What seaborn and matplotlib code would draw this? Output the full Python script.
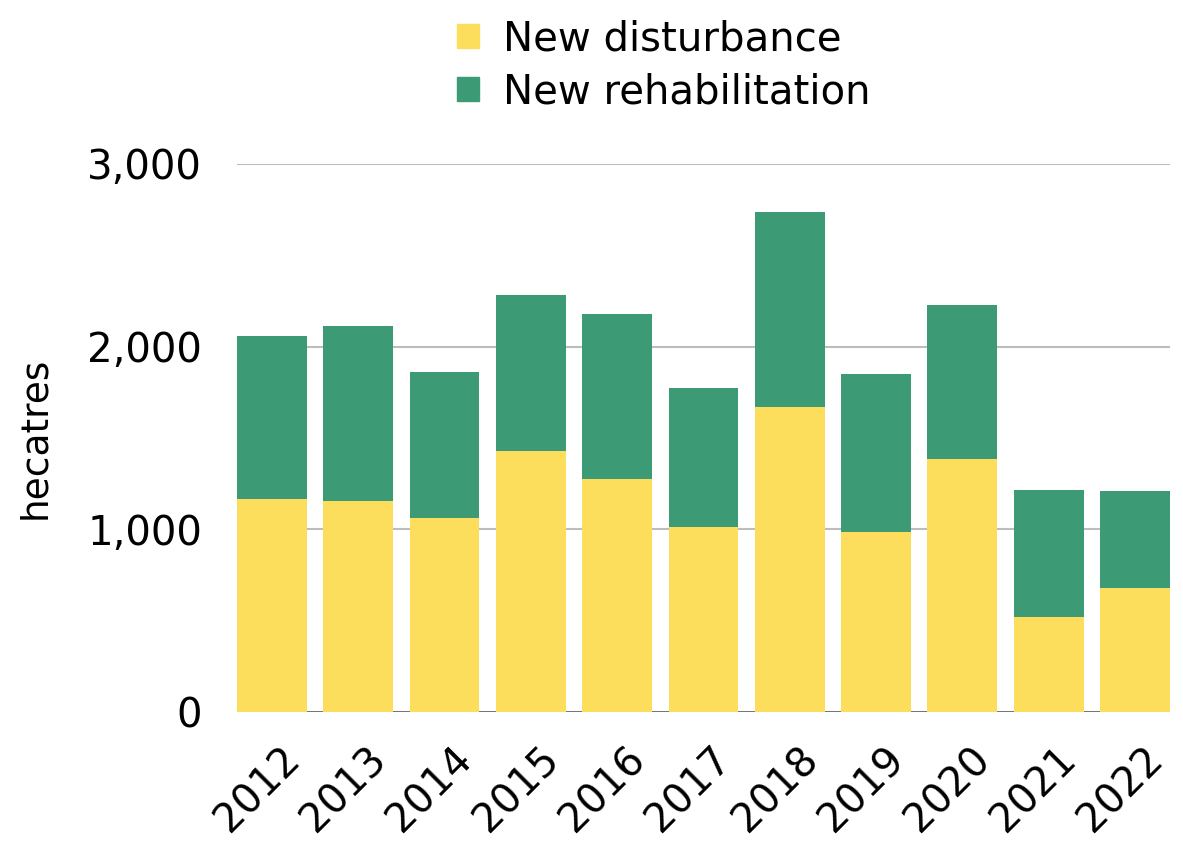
import matplotlib
matplotlib.use("Agg")
import matplotlib.pyplot as plt
import matplotlib.transforms as mtransforms
from matplotlib.patches import Patch
import pandas as pd
import seaborn as sns

# data (hectares)
years = ["2012", "2013", "2014", "2015", "2016", "2017", "2018", "2019", "2020", "2021", "2022"]
disturbance = [1166, 1155, 1062, 1429, 1275, 1013, 1669, 985, 1385, 520, 679]
rehabilitation = [892, 958, 799, 853, 903, 760, 1068, 865, 843, 695, 531]

yellow = "#FDDD5C"
green = "#3C9B75"

sns.set_theme(style="white")
plt.rcParams["font.family"] = ["DejaVu Sans"]
plt.rcParams["text.color"] = "black"
plt.rcParams["axes.labelcolor"] = "black"
plt.rcParams["xtick.color"] = "black"
plt.rcParams["ytick.color"] = "black"

df = pd.DataFrame({"year": years, "disturbance": disturbance, "rehabilitation": rehabilitation})
df["total"] = df["disturbance"] + df["rehabilitation"]

fig = plt.figure(figsize=(11.83, 8.43), dpi=100)
ax = fig.add_axes([0.2003, 0.1554, 0.7887, 0.6501])

# stacked bars: total (green) underneath, disturbance (yellow) on top of it
sns.barplot(data=df, x="year", y="total", color=green, saturation=1, width=0.81,
            linewidth=0, ax=ax, zorder=2)
sns.barplot(data=df, x="year", y="disturbance", color=yellow, saturation=1, width=0.81,
            linewidth=0, ax=ax, zorder=3)

ax.set_ylim(0, 3000)
ax.set_xlim(-0.405, len(years) - 0.595)
ax.set_yticks([0, 1000, 2000, 3000])
ax.set_yticklabels(["0", "1,000", "2,000", "3,000"])
for y in [1000, 2000, 3000]:
    ax.axhline(y, color="#bdbdbd", lw=1.5, zorder=1)
ax.axhline(0, color="#666666", lw=2, zorder=1)
sns.despine(ax=ax, left=True, bottom=True)

ax.tick_params(axis="y", labelsize=29, length=0, pad=25)
ax.tick_params(axis="x", labelsize=29, length=0, pad=30)
ax.set_xlabel("")
ax.set_ylabel("hecatres", fontsize=27, labelpad=25)

offset = mtransforms.ScaledTranslation(0.22, 0, fig.dpi_scale_trans)
for lbl in ax.get_xticklabels():
    lbl.set_rotation(45)
    lbl.set_ha("right")
    lbl.set_va("center")
    lbl.set_rotation_mode("anchor")
    lbl.set_transform(lbl.get_transform() + offset)

handles = [Patch(color=yellow, label="New disturbance"),
           Patch(color=green, label="New rehabilitation")]
fig.legend(handles=handles, loc="upper center", bbox_to_anchor=(0.561, 1.02),
           frameon=False, fontsize=29, handlelength=0.55, handleheight=0.55,
           handletextpad=0.6, labelspacing=0.32)

fig.savefig("out.png", dpi=100)
plt.close(fig)
